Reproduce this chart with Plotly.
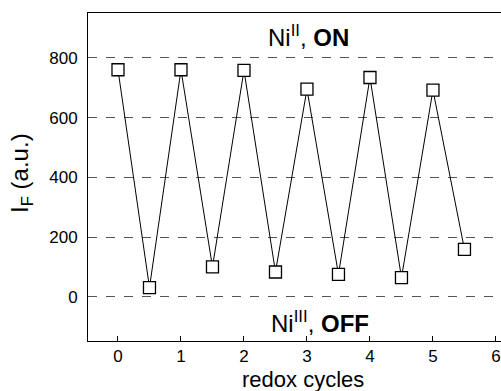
import plotly.graph_objects as go

cycles = [0, 0.5, 1, 1.5, 2, 2.5, 3, 3.5, 4, 4.5, 5, 5.5]
intensity = [760, 31, 760, 100, 758, 83, 695, 75, 734, 64, 692, 159]
x_ticks = [0, 1, 2, 3, 4, 5, 6]
y_ticks = [0, 200, 400, 600, 800]

FONT = "Liberation Sans, Arial, sans-serif"

L, R, T, B, W, H = 88, 0, 13, 50, 501, 391
pw, ph = W - L - R, H - T - B


def px2paper(px, py):
    return (px - L) / pw, (H - B - py) / ph


fig = go.Figure()
fig.add_trace(go.Scatter(
    x=cycles, y=intensity, mode="lines+markers",
    line=dict(color="black", width=1),
    marker=dict(symbol="square", size=12, color="white",
                line=dict(color="black", width=1.3)),
    showlegend=False, cliponaxis=False,
))

labels = [
    ("Ni<sup>II</sup>, <b>ON</b>", 308, 36, 24, 0),
    ("Ni<sup>III</sup>, <b>OFF</b>", 320, 322, 24, 0),
    ("I<sub>F</sub> (a.u.)", 21, 173, 24, -90),
    ("redox cycles", 303, 379, 22, 0),
]
annotations = []
for text, px, py, size, ang in labels:
    xp, yp = px2paper(px, py)
    annotations.append(dict(text=text, x=xp, y=yp, xref="paper", yref="paper",
                            xanchor="center", yanchor="middle", showarrow=False,
                            textangle=ang, font=dict(size=size)))

fig.update_layout(
    width=W, height=H,
    margin=dict(l=L, r=R, t=T, b=B),
    paper_bgcolor="white", plot_bgcolor="white",
    font=dict(family=FONT, color="black", size=17),
    xaxis=dict(range=[-0.476, 6.08], tickvals=x_ticks, ticks="inside", ticklen=5,
               tickcolor="black", showline=True, linecolor="black", linewidth=1,
               mirror=True, showgrid=False, zeroline=False,
               tickfont=dict(size=17)),
    yaxis=dict(range=[-148, 950], tickvals=y_ticks, ticks="", showline=True,
               linecolor="black", linewidth=1, showgrid=True, gridcolor="#555",
               griddash="dash", gridwidth=1, zeroline=False,
               tickfont=dict(size=17), ticklabelstandoff=6),
    annotations=annotations,
)

fig.write_html("out.html")
